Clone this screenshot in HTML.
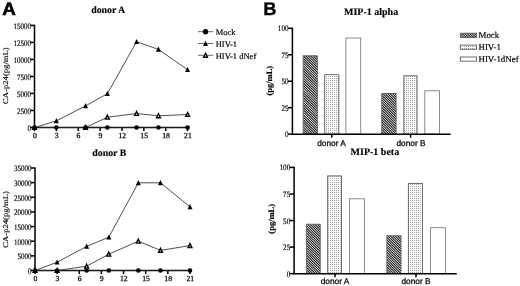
<!DOCTYPE html>
<html><head><meta charset="utf-8"><title>Figure</title>
<style>
html,body{margin:0;padding:0;background:#fff;}
body{width:520px;height:286px;overflow:hidden;}
svg{display:block;filter:blur(0.35px);}
text{font-family:"Liberation Serif",serif;fill:#000;text-rendering:geometricPrecision;stroke:#000;stroke-width:0.18px;}
.sans{font-family:"Liberation Sans",sans-serif;}
.b{font-weight:bold;stroke-width:0.15px;}
</style></head><body>
<svg width="520" height="286" viewBox="0 0 520 286">
<defs>
<pattern id="hatch" width="1.55" height="1.55" patternUnits="userSpaceOnUse" patternTransform="rotate(45)"><rect width="1.55" height="1.55" fill="#fff"/><rect width="1.55" height="0.8" fill="#1a1a1a"/></pattern>
<pattern id="dots" width="2" height="2" patternUnits="userSpaceOnUse"><rect width="2" height="2" fill="#fff"/><rect x="0" y="0" width="1" height="1" fill="#a2a2a2"/></pattern>
</defs>
<rect width="520" height="286" fill="#fff"/>
<text class="sans b" x="2.3" y="14.55" font-size="18" textLength="13.6" lengthAdjust="spacingAndGlyphs" style="stroke:#000;stroke-width:0.5px">A</text>
<text class="sans b" x="263.3" y="14.75" font-size="18.3" style="stroke:#000;stroke-width:0.3px">B</text>
<g stroke="#000" stroke-width="1.5" fill="none"><path d="M34.5 24.8 V127.5 H188.19"/><path d="M30.2 127.5 H34.5"/><path d="M30.2 110.48 H34.5"/><path d="M30.2 93.47 H34.5"/><path d="M30.2 76.45 H34.5"/><path d="M30.2 59.43 H34.5"/><path d="M30.2 42.42 H34.5"/><path d="M30.2 25.4 H34.5"/><path d="M34.5 127.5 V131.1"/><path d="M56.37 127.5 V131.1"/><path d="M78.24 127.5 V131.1"/><path d="M100.11 127.5 V131.1"/><path d="M121.98 127.5 V131.1"/><path d="M143.85 127.5 V131.1"/><path d="M165.72 127.5 V131.1"/><path d="M187.59 127.5 V131.1"/></g>
<text x="31.05" y="130.8" font-size="8.4" text-anchor="end" textLength="3.5" lengthAdjust="spacingAndGlyphs">0</text><text x="31.05" y="113.78" font-size="8.4" text-anchor="end" textLength="14" lengthAdjust="spacingAndGlyphs">2500</text><text x="31.05" y="96.77" font-size="8.4" text-anchor="end" textLength="14" lengthAdjust="spacingAndGlyphs">5000</text><text x="31.05" y="79.75" font-size="8.4" text-anchor="end" textLength="14" lengthAdjust="spacingAndGlyphs">7500</text><text x="31.05" y="62.73" font-size="8.4" text-anchor="end" textLength="17.5" lengthAdjust="spacingAndGlyphs">10000</text><text x="31.05" y="45.72" font-size="8.4" text-anchor="end" textLength="17.5" lengthAdjust="spacingAndGlyphs">12500</text><text x="31.05" y="28.7" font-size="8.4" text-anchor="end" textLength="17.5" lengthAdjust="spacingAndGlyphs">15000</text>
<text x="34.8" y="138.1" font-size="7.7" text-anchor="middle" style="stroke-width:0.25px">0</text><text x="56.67" y="138.1" font-size="7.7" text-anchor="middle" style="stroke-width:0.25px">3</text><text x="78.54" y="138.1" font-size="7.7" text-anchor="middle" style="stroke-width:0.25px">6</text><text x="100.41" y="138.1" font-size="7.7" text-anchor="middle" style="stroke-width:0.25px">9</text><text x="122.28" y="138.1" font-size="7.7" text-anchor="middle" style="stroke-width:0.25px">12</text><text x="144.15" y="138.1" font-size="7.7" text-anchor="middle" style="stroke-width:0.25px">15</text><text x="166.02" y="138.1" font-size="7.7" text-anchor="middle" style="stroke-width:0.25px">18</text><text x="187.89" y="138.1" font-size="7.7" text-anchor="middle" style="stroke-width:0.25px">21</text>
<text class="b" x="91.2" y="13.1" font-size="9.85">donor A</text>
<text transform="translate(7.5 75.6) rotate(-90)" font-size="7.3" text-anchor="middle" textLength="56.6" lengthAdjust="spacingAndGlyphs" style="stroke-width:0.15px">CA-p24(pg/mL)</text>
<polyline fill="none" stroke="#222" stroke-width="0.8" points="34.5,127.5 56.37,120.9 85.53,105.9 107.4,93.7 136.56,41.7 158.43,49.4 187.59,69.7"/><polyline fill="none" stroke="#222" stroke-width="0.8" points="34.5,127.5 85.53,127.5 107.4,117.2 136.56,113.5 158.43,115.8 187.59,114.5"/><polyline fill="none" stroke="#222" stroke-width="0.8" points="34.5,127.5 56.37,127.5 85.53,127.5 107.4,127.5 136.56,127.5 158.43,127.5 187.59,127.5"/><path d="M34.5 124.7 L37 129.9 L32 129.9 Z" fill="#000"/><path d="M56.37 118.1 L58.87 123.3 L53.87 123.3 Z" fill="#000"/><path d="M85.53 103.1 L88.03 108.3 L83.03 108.3 Z" fill="#000"/><path d="M107.4 90.9 L109.9 96.1 L104.9 96.1 Z" fill="#000"/><path d="M136.56 38.9 L139.06 44.1 L134.06 44.1 Z" fill="#000"/><path d="M158.43 46.6 L160.93 51.8 L155.93 51.8 Z" fill="#000"/><path d="M187.59 66.9 L190.09 72.1 L185.09 72.1 Z" fill="#000"/><path d="M34.5 125.5 L36.4 129.4 L32.6 129.4 Z" fill="#fff" stroke="#000" stroke-width="1.4"/><path d="M85.53 125.5 L87.43 129.4 L83.63 129.4 Z" fill="#fff" stroke="#000" stroke-width="1.4"/><path d="M107.4 115.2 L109.3 119.1 L105.5 119.1 Z" fill="#fff" stroke="#000" stroke-width="1.4"/><path d="M136.56 111.5 L138.46 115.4 L134.66 115.4 Z" fill="#fff" stroke="#000" stroke-width="1.4"/><path d="M158.43 113.8 L160.33 117.7 L156.53 117.7 Z" fill="#fff" stroke="#000" stroke-width="1.4"/><path d="M187.59 112.5 L189.49 116.4 L185.69 116.4 Z" fill="#fff" stroke="#000" stroke-width="1.4"/><circle cx="34.5" cy="127.5" r="2.3" fill="#000"/><circle cx="56.37" cy="127.5" r="2.3" fill="#000"/><circle cx="85.53" cy="127.5" r="2.3" fill="#000"/><circle cx="107.4" cy="127.5" r="2.3" fill="#000"/><circle cx="136.56" cy="127.5" r="2.3" fill="#000"/><circle cx="158.43" cy="127.5" r="2.3" fill="#000"/><circle cx="187.59" cy="127.5" r="2.3" fill="#000"/>
<g stroke="#000" stroke-width="1.5" fill="none"><path d="M35 167.4 V270.5 H190.58"/><path d="M30.7 270.5 H35"/><path d="M30.7 255.86 H35"/><path d="M30.7 241.21 H35"/><path d="M30.7 226.57 H35"/><path d="M30.7 211.93 H35"/><path d="M30.7 197.29 H35"/><path d="M30.7 182.64 H35"/><path d="M30.7 168 H35"/><path d="M35 270.5 V274.1"/><path d="M57.14 270.5 V274.1"/><path d="M79.28 270.5 V274.1"/><path d="M101.42 270.5 V274.1"/><path d="M123.56 270.5 V274.1"/><path d="M145.7 270.5 V274.1"/><path d="M167.84 270.5 V274.1"/><path d="M189.98 270.5 V274.1"/></g>
<text x="31.55" y="273.8" font-size="8.4" text-anchor="end" textLength="3.5" lengthAdjust="spacingAndGlyphs">0</text><text x="31.55" y="259.16" font-size="8.4" text-anchor="end" textLength="14" lengthAdjust="spacingAndGlyphs">5000</text><text x="31.55" y="244.51" font-size="8.4" text-anchor="end" textLength="17.5" lengthAdjust="spacingAndGlyphs">10000</text><text x="31.55" y="229.87" font-size="8.4" text-anchor="end" textLength="17.5" lengthAdjust="spacingAndGlyphs">15000</text><text x="31.55" y="215.23" font-size="8.4" text-anchor="end" textLength="17.5" lengthAdjust="spacingAndGlyphs">20000</text><text x="31.55" y="200.59" font-size="8.4" text-anchor="end" textLength="17.5" lengthAdjust="spacingAndGlyphs">25000</text><text x="31.55" y="185.94" font-size="8.4" text-anchor="end" textLength="17.5" lengthAdjust="spacingAndGlyphs">30000</text><text x="31.55" y="171.3" font-size="8.4" text-anchor="end" textLength="17.5" lengthAdjust="spacingAndGlyphs">35000</text>
<text x="35.3" y="281.3" font-size="7.7" text-anchor="middle" style="stroke-width:0.25px">0</text><text x="57.44" y="281.3" font-size="7.7" text-anchor="middle" style="stroke-width:0.25px">3</text><text x="79.58" y="281.3" font-size="7.7" text-anchor="middle" style="stroke-width:0.25px">6</text><text x="101.72" y="281.3" font-size="7.7" text-anchor="middle" style="stroke-width:0.25px">9</text><text x="123.86" y="281.3" font-size="7.7" text-anchor="middle" style="stroke-width:0.25px">12</text><text x="146" y="281.3" font-size="7.7" text-anchor="middle" style="stroke-width:0.25px">15</text><text x="168.14" y="281.3" font-size="7.7" text-anchor="middle" style="stroke-width:0.25px">18</text><text x="190.28" y="281.3" font-size="7.7" text-anchor="middle" style="stroke-width:0.25px">21</text>
<text class="b" x="92.3" y="155.8" font-size="9.85">donor B</text>
<text transform="translate(7.5 219.4) rotate(-90)" font-size="7.3" text-anchor="middle" textLength="56.6" lengthAdjust="spacingAndGlyphs" style="stroke-width:0.15px">CA-p24(pg/mL)</text>
<polyline fill="none" stroke="#222" stroke-width="0.8" points="35,270.5 57.14,262.2 86.66,246.4 108.8,237.2 138.32,182.8 160.46,182.8 189.98,206.8"/><polyline fill="none" stroke="#222" stroke-width="0.8" points="35,270.5 57.14,270.5 86.66,266.2 108.8,254.2 138.32,241.2 160.46,250.4 189.98,245.6"/><polyline fill="none" stroke="#222" stroke-width="0.8" points="35,270.5 57.14,270.5 86.66,270.5 108.8,270.5 138.32,270.5 160.46,270.5 189.98,270.5"/><path d="M35 267.7 L37.5 272.9 L32.5 272.9 Z" fill="#000"/><path d="M57.14 259.4 L59.64 264.6 L54.64 264.6 Z" fill="#000"/><path d="M86.66 243.6 L89.16 248.8 L84.16 248.8 Z" fill="#000"/><path d="M108.8 234.4 L111.3 239.6 L106.3 239.6 Z" fill="#000"/><path d="M138.32 180 L140.82 185.2 L135.82 185.2 Z" fill="#000"/><path d="M160.46 180 L162.96 185.2 L157.96 185.2 Z" fill="#000"/><path d="M189.98 204 L192.48 209.2 L187.48 209.2 Z" fill="#000"/><path d="M35 268.5 L36.9 272.4 L33.1 272.4 Z" fill="#fff" stroke="#000" stroke-width="1.4"/><path d="M57.14 268.5 L59.04 272.4 L55.24 272.4 Z" fill="#fff" stroke="#000" stroke-width="1.4"/><path d="M86.66 264.2 L88.56 268.1 L84.76 268.1 Z" fill="#fff" stroke="#000" stroke-width="1.4"/><path d="M108.8 252.2 L110.7 256.1 L106.9 256.1 Z" fill="#fff" stroke="#000" stroke-width="1.4"/><path d="M138.32 239.2 L140.22 243.1 L136.42 243.1 Z" fill="#fff" stroke="#000" stroke-width="1.4"/><path d="M160.46 248.4 L162.36 252.3 L158.56 252.3 Z" fill="#fff" stroke="#000" stroke-width="1.4"/><path d="M189.98 243.6 L191.88 247.5 L188.08 247.5 Z" fill="#fff" stroke="#000" stroke-width="1.4"/><circle cx="35" cy="270.5" r="2.3" fill="#000"/><circle cx="57.14" cy="270.5" r="2.3" fill="#000"/><circle cx="86.66" cy="270.5" r="2.3" fill="#000"/><circle cx="108.8" cy="270.5" r="2.3" fill="#000"/><circle cx="138.32" cy="270.5" r="2.3" fill="#000"/><circle cx="160.46" cy="270.5" r="2.3" fill="#000"/><circle cx="189.98" cy="270.5" r="2.3" fill="#000"/>
<path d="M198 31.7 H213.2" stroke="#444" stroke-width="0.8"/><circle cx="205.5" cy="31.7" r="2.7" fill="#000"/><text x="215.7" y="35.25" font-size="8.5">Mock</text>
<path d="M198 43.5 H213.2" stroke="#444" stroke-width="0.8"/><path d="M205.5 40.7 L208 45.9 L203 45.9 Z" fill="#000"/><text x="215.7" y="47.05" font-size="8.5">HIV-1</text>
<path d="M198 55.3 H213.2" stroke="#444" stroke-width="0.8"/><path d="M205.5 53.3 L207.4 57.2 L203.6 57.2 Z" fill="#fff" stroke="#000" stroke-width="1.4"/><text x="215.7" y="58.85" font-size="8.5">HIV-1 dNef</text>
<clipPath id="c1"><rect x="303.15" y="55.8" width="14.2" height="78.35"/></clipPath><path clip-path="url(#c1)" d="M303.15 41 l14.2 14.2M303.15 43.45 l14.2 14.2M303.15 45.9 l14.2 14.2M303.15 48.35 l14.2 14.2M303.15 50.8 l14.2 14.2M303.15 53.25 l14.2 14.2M303.15 55.7 l14.2 14.2M303.15 58.15 l14.2 14.2M303.15 60.6 l14.2 14.2M303.15 63.05 l14.2 14.2M303.15 65.5 l14.2 14.2M303.15 67.95 l14.2 14.2M303.15 70.4 l14.2 14.2M303.15 72.85 l14.2 14.2M303.15 75.3 l14.2 14.2M303.15 77.75 l14.2 14.2M303.15 80.2 l14.2 14.2M303.15 82.65 l14.2 14.2M303.15 85.1 l14.2 14.2M303.15 87.55 l14.2 14.2M303.15 90 l14.2 14.2M303.15 92.45 l14.2 14.2M303.15 94.9 l14.2 14.2M303.15 97.35 l14.2 14.2M303.15 99.8 l14.2 14.2M303.15 102.25 l14.2 14.2M303.15 104.7 l14.2 14.2M303.15 107.15 l14.2 14.2M303.15 109.6 l14.2 14.2M303.15 112.05 l14.2 14.2M303.15 114.5 l14.2 14.2M303.15 116.95 l14.2 14.2M303.15 119.4 l14.2 14.2M303.15 121.85 l14.2 14.2M303.15 124.3 l14.2 14.2M303.15 126.75 l14.2 14.2M303.15 129.2 l14.2 14.2M303.15 131.65 l14.2 14.2M303.15 134.1 l14.2 14.2" stroke="#111" stroke-width="1.02" fill="none"/><rect x="303.15" y="55.8" width="14.2" height="78.35" fill="none" stroke="#555" stroke-width="0.85"/><rect x="324.75" y="74.7" width="14.1" height="59.45" fill="url(#dots)" stroke="#555" stroke-width="0.85"/><rect x="345.9" y="38" width="14.8" height="96.15" fill="#fff" stroke="#777" stroke-width="0.85"/><clipPath id="c2"><rect x="381.75" y="93.5" width="14.4" height="40.65"/></clipPath><path clip-path="url(#c2)" d="M381.75 77.95 l14.4 14.4M381.75 80.4 l14.4 14.4M381.75 82.85 l14.4 14.4M381.75 85.3 l14.4 14.4M381.75 87.75 l14.4 14.4M381.75 90.2 l14.4 14.4M381.75 92.65 l14.4 14.4M381.75 95.1 l14.4 14.4M381.75 97.55 l14.4 14.4M381.75 100 l14.4 14.4M381.75 102.45 l14.4 14.4M381.75 104.9 l14.4 14.4M381.75 107.35 l14.4 14.4M381.75 109.8 l14.4 14.4M381.75 112.25 l14.4 14.4M381.75 114.7 l14.4 14.4M381.75 117.15 l14.4 14.4M381.75 119.6 l14.4 14.4M381.75 122.05 l14.4 14.4M381.75 124.5 l14.4 14.4M381.75 126.95 l14.4 14.4M381.75 129.4 l14.4 14.4M381.75 131.85 l14.4 14.4" stroke="#111" stroke-width="1.02" fill="none"/><rect x="381.75" y="93.5" width="14.4" height="40.65" fill="none" stroke="#555" stroke-width="0.85"/><rect x="403.85" y="75.8" width="13.2" height="58.35" fill="url(#dots)" stroke="#555" stroke-width="0.85"/><rect x="424.8" y="90.8" width="14.7" height="43.35" fill="#fff" stroke="#777" stroke-width="0.85"/>
<g stroke="#000" stroke-width="1.5" fill="none"><path d="M292.4 27.7 V134.15 H450.6"/><path d="M288.1 134.15 H292.4"/><path d="M288.1 107.69 H292.4"/><path d="M288.1 81.22 H292.4"/><path d="M288.1 54.76 H292.4"/><path d="M288.1 28.3 H292.4"/><path d="M331.8 134.15 V137.75"/><path d="M410.6 134.15 V137.75"/></g>
<text x="288.5" y="137.1" font-size="8.4" text-anchor="end" textLength="3.55" lengthAdjust="spacingAndGlyphs">0</text><text x="288.5" y="110.64" font-size="8.4" text-anchor="end" textLength="7.1" lengthAdjust="spacingAndGlyphs">25</text><text x="288.5" y="84.17" font-size="8.4" text-anchor="end" textLength="7.1" lengthAdjust="spacingAndGlyphs">50</text><text x="288.5" y="57.71" font-size="8.4" text-anchor="end" textLength="7.1" lengthAdjust="spacingAndGlyphs">75</text><text x="288.5" y="31.25" font-size="8.4" text-anchor="end" textLength="10.65" lengthAdjust="spacingAndGlyphs">100</text>
<text class="sans" x="317.2" y="145.6" font-size="8.3" style="stroke:#000;stroke-width:0.25px" fill="#000">donor A</text><text class="sans" x="396.5" y="145.6" font-size="8.3" style="stroke:#000;stroke-width:0.25px" fill="#000">donor B</text>
<text class="b" x="344" y="15.45" font-size="10">MIP-1 alpha</text>
<text class="b" transform="translate(272.2 80.7) rotate(-90)" font-size="8.2" text-anchor="middle" textLength="29.8" lengthAdjust="spacingAndGlyphs">(pg/mL)</text>
<clipPath id="c3"><rect x="306.35" y="224.2" width="13.9" height="49.45"/></clipPath><path clip-path="url(#c3)" d="M306.35 208.35 l13.9 13.9M306.35 210.8 l13.9 13.9M306.35 213.25 l13.9 13.9M306.35 215.7 l13.9 13.9M306.35 218.15 l13.9 13.9M306.35 220.6 l13.9 13.9M306.35 223.05 l13.9 13.9M306.35 225.5 l13.9 13.9M306.35 227.95 l13.9 13.9M306.35 230.4 l13.9 13.9M306.35 232.85 l13.9 13.9M306.35 235.3 l13.9 13.9M306.35 237.75 l13.9 13.9M306.35 240.2 l13.9 13.9M306.35 242.65 l13.9 13.9M306.35 245.1 l13.9 13.9M306.35 247.55 l13.9 13.9M306.35 250 l13.9 13.9M306.35 252.45 l13.9 13.9M306.35 254.9 l13.9 13.9M306.35 257.35 l13.9 13.9M306.35 259.8 l13.9 13.9M306.35 262.25 l13.9 13.9M306.35 264.7 l13.9 13.9M306.35 267.15 l13.9 13.9M306.35 269.6 l13.9 13.9M306.35 272.05 l13.9 13.9" stroke="#111" stroke-width="1.02" fill="none"/><rect x="306.35" y="224.2" width="13.9" height="49.45" fill="none" stroke="#555" stroke-width="0.85"/><rect x="327.65" y="175.9" width="13.8" height="97.75" fill="url(#dots)" stroke="#555" stroke-width="0.85"/><rect x="349.5" y="198.8" width="14.9" height="74.85" fill="#fff" stroke="#777" stroke-width="0.85"/><clipPath id="c4"><rect x="386.85" y="235.8" width="14.2" height="37.85"/></clipPath><path clip-path="url(#c4)" d="M386.85 220.25 l14.2 14.2M386.85 222.7 l14.2 14.2M386.85 225.15 l14.2 14.2M386.85 227.6 l14.2 14.2M386.85 230.05 l14.2 14.2M386.85 232.5 l14.2 14.2M386.85 234.95 l14.2 14.2M386.85 237.4 l14.2 14.2M386.85 239.85 l14.2 14.2M386.85 242.3 l14.2 14.2M386.85 244.75 l14.2 14.2M386.85 247.2 l14.2 14.2M386.85 249.65 l14.2 14.2M386.85 252.1 l14.2 14.2M386.85 254.55 l14.2 14.2M386.85 257 l14.2 14.2M386.85 259.45 l14.2 14.2M386.85 261.9 l14.2 14.2M386.85 264.35 l14.2 14.2M386.85 266.8 l14.2 14.2M386.85 269.25 l14.2 14.2M386.85 271.7 l14.2 14.2" stroke="#111" stroke-width="1.02" fill="none"/><rect x="386.85" y="235.8" width="14.2" height="37.85" fill="none" stroke="#555" stroke-width="0.85"/><rect x="408.35" y="183.4" width="14.2" height="90.25" fill="url(#dots)" stroke="#555" stroke-width="0.85"/><rect x="430.4" y="227.7" width="15" height="45.95" fill="#fff" stroke="#777" stroke-width="0.85"/>
<g stroke="#000" stroke-width="1.5" fill="none"><path d="M294.1 166.85 V273.65 H456.8"/><path d="M289.8 273.65 H294.1"/><path d="M289.8 247.1 H294.1"/><path d="M289.8 220.55 H294.1"/><path d="M289.8 194 H294.1"/><path d="M289.8 167.45 H294.1"/><path d="M335 273.65 V277.25"/><path d="M416 273.65 V277.25"/></g>
<text x="290.2" y="276.6" font-size="8.4" text-anchor="end" textLength="3.55" lengthAdjust="spacingAndGlyphs">0</text><text x="290.2" y="250.05" font-size="8.4" text-anchor="end" textLength="7.1" lengthAdjust="spacingAndGlyphs">25</text><text x="290.2" y="223.5" font-size="8.4" text-anchor="end" textLength="7.1" lengthAdjust="spacingAndGlyphs">50</text><text x="290.2" y="196.95" font-size="8.4" text-anchor="end" textLength="7.1" lengthAdjust="spacingAndGlyphs">75</text><text x="290.2" y="170.4" font-size="8.4" text-anchor="end" textLength="10.65" lengthAdjust="spacingAndGlyphs">100</text>
<text class="sans" x="320.7" y="284.1" font-size="8.3" style="stroke:#000;stroke-width:0.25px" fill="#000">donor A</text><text class="sans" x="401.5" y="284.1" font-size="8.3" style="stroke:#000;stroke-width:0.25px" fill="#000">donor B</text>
<text class="b" x="350.6" y="154.9" font-size="10">MIP-1 beta</text>
<text class="b" transform="translate(273.6 218.8) rotate(-90)" font-size="8.2" text-anchor="middle" textLength="29.8" lengthAdjust="spacingAndGlyphs">(pg/mL)</text>
<clipPath id="c5"><rect x="460.3" y="33.2" width="16.2" height="4.2"/></clipPath><path clip-path="url(#c5)" d="M460.3 16.85 l16.2 16.2M460.3 19.3 l16.2 16.2M460.3 21.75 l16.2 16.2M460.3 24.2 l16.2 16.2M460.3 26.65 l16.2 16.2M460.3 29.1 l16.2 16.2M460.3 31.55 l16.2 16.2M460.3 34 l16.2 16.2M460.3 36.45 l16.2 16.2" stroke="#111" stroke-width="1.02" fill="none"/><rect x="460.3" y="33.2" width="16.2" height="4.2" fill="none" stroke="#555" stroke-width="0.85"/><text x="478.5" y="38.1" font-size="8.9">Mock</text>
<rect x="460.3" y="45.1" width="16.2" height="4.2" fill="url(#dots)" stroke="#555" stroke-width="0.85"/><text x="478.5" y="50.35" font-size="8.9">HIV-1</text>
<rect x="460.3" y="57" width="16.2" height="4.2" fill="#fff" stroke="#555" stroke-width="0.85"/><text x="478.5" y="61.9" font-size="8.9">HIV-1dNef</text>
</svg>
</body></html>
